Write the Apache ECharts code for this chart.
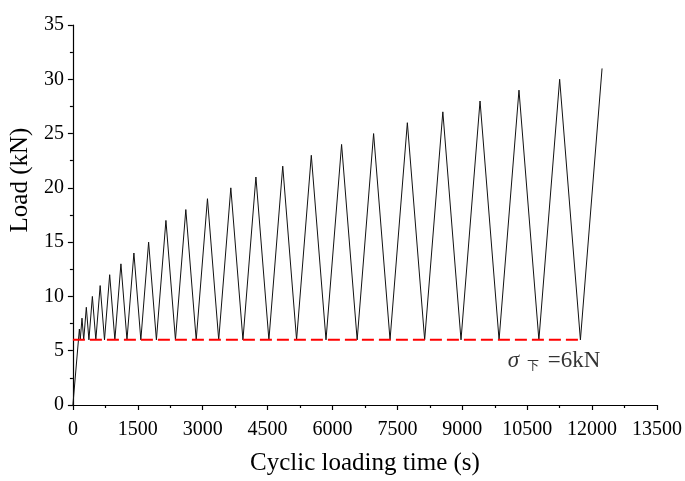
<!DOCTYPE html>
<html>
<head>
<meta charset="utf-8">
<script src="https://cdn.jsdelivr.net/npm/echarts@6/dist/echarts.min.js"></script>
<style>
html,body{margin:0;padding:0;background:#fff;}
#chart{width:685px;height:481px;}
</style>
</head>
<body>
<div id="chart"></div>
<script>
// Cyclic loading: time (s) and load (kN) at each turning point
var times = [0, 150, 170, 210, 250, 310, 370, 450, 530, 630, 730, 850, 970, 1110, 1250, 1410, 1570, 1750, 1930,
  2150, 2370, 2610, 2850, 3110, 3370, 3650, 3930, 4230, 4530, 4850, 5170, 5510, 5850, 6210, 6570,
  6950, 7330, 7730, 8130, 8550, 8970, 9410, 9850, 10310, 10770, 11250, 11730, 12230];
var loads = [0, 7, 6, 8, 6, 9, 6, 10, 6, 11, 6, 12, 6, 13, 6, 14, 6, 15, 6,
  17, 6, 18, 6, 19, 6, 20, 6, 21, 6, 22, 6, 23, 6, 24, 6,
  25, 6, 26, 6, 27, 6, 28, 6, 29, 6, 30, 6, 31];
// lower load limit line
var limitTimes = [0, 11730];
var limitLoads = [6, 6];
// annotation anchor
var noteTime = [10050];
var noteLoad = [6];

var xTitle = 'Cyclic loading time (s)';
var yTitle = 'Load (kN)';

var serif = '"Liberation Serif","Times New Roman",serif';

var chart = echarts.init(document.getElementById('chart'), null, {renderer: 'canvas'});

var mainData = times.map(function (t, i) { return [t, loads[i]]; });
var limitData = limitTimes.map(function (t, i) { return [t, limitLoads[i]]; });
var noteData = noteTime.map(function (t, i) { return [t, noteLoad[i]]; });

var plain = function (v) { return String(v); };

var option = {
  animation: false,
  backgroundColor: '#ffffff',
  grid: {left: 71, right: 27, top: 25, bottom: 73, containLabel: false},
  xAxis: {
    type: 'value', min: 0, max: 13500, interval: 1500,
    name: xTitle, nameLocation: 'middle', nameGap: 46,
    nameTextStyle: {fontFamily: serif, fontSize: 25, color: '#000'},
    axisLine: {show: true, onZero: false, lineStyle: {color: '#000', width: 1.2}},
    axisTick: {show: true, inside: false, length: 5, lineStyle: {color: '#000', width: 1.2}},
    minorTick: {show: true, splitNumber: 2, length: 3, lineStyle: {color: '#000', width: 1.2}},
    axisLabel: {fontFamily: serif, fontSize: 20, color: '#000', margin: 15, formatter: plain},
    splitLine: {show: false}
  },
  yAxis: {
    type: 'value', min: 0, max: 35, interval: 5,
    name: yTitle, nameLocation: 'middle', nameGap: 34,
    nameTextStyle: {fontFamily: serif, fontSize: 25, color: '#000', padding: [0, 0, 0, 70]},
    axisLine: {show: true, onZero: false, lineStyle: {color: '#000', width: 1.2}},
    axisTick: {show: true, inside: false, length: 5, lineStyle: {color: '#000', width: 1.2}},
    minorTick: {show: true, splitNumber: 2, length: 3, lineStyle: {color: '#000', width: 1.2}},
    axisLabel: {fontFamily: serif, fontSize: 20, color: '#000', margin: 9, formatter: plain},
    splitLine: {show: false}
  },
  series: [
    {
      type: 'line', data: mainData, showSymbol: false, symbol: 'none',
      lineStyle: {color: '#111', width: 1},
      z: 2
    },
    {
      type: 'line', data: limitData, showSymbol: false, symbol: 'none',
      lineStyle: {color: '#ff0000', width: 2, type: [12, 5]},
      z: 3
    },
    {
      type: 'scatter', data: noteData, symbolSize: 0,
      label: {
        show: true, position: 'right', distance: 0, offset: [0, 21],
        formatter: '{s|σ}{sub|下}{n| =6kN}',
        rich: {
          s: {fontFamily: serif, fontStyle: 'italic', fontSize: 23, color: '#000'},
          sub: {fontFamily: '"Noto Sans CJK SC",sans-serif', fontSize: 12, color: '#000', padding: [10, 3, 0, 8]},
          n: {fontFamily: serif, fontSize: 23, color: '#000'}
        }
      },
      z: 4
    }
  ]
};
chart.setOption(option);
</script>
</body>
</html>
